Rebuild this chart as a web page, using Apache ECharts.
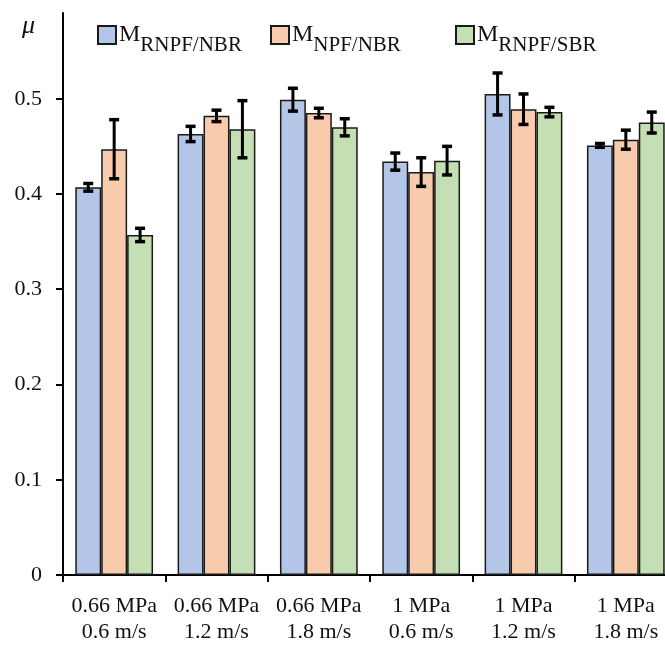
<!DOCTYPE html>
<html>
<head>
<meta charset="utf-8">
<script src="https://cdn.jsdelivr.net/npm/echarts@6/dist/echarts.min.js"></script>
<style>
    html, body { margin: 0; padding: 0; background: #fff; overflow: hidden; }
    #plot { width: 677px; height: 645px; }
</style>
</head>
<body>
<div id="plot"></div>
<script>
    // 类别与数据
    var categories = ['0.66 MPa\n0.6 m/s', '0.66 MPa\n1.2 m/s', '0.66 MPa\n1.8 m/s',
                      '1 MPa\n0.6 m/s', '1 MPa\n1.2 m/s', '1 MPa\n1.8 m/s'];
    var seriesNames = ['RNPF/NBR', 'NPF/NBR', 'RNPF/SBR'];
    var rnpfNbr = [0.407, 0.463, 0.499, 0.434, 0.505, 0.451];
    var npfNbr = [0.447, 0.482, 0.485, 0.423, 0.489, 0.457];
    var rnpfSbr = [0.357, 0.468, 0.470, 0.435, 0.486, 0.475];
    var errRnpfNbr = [0.004, 0.008, 0.012, 0.009, 0.022, 0.002];
    var errNpfNbr = [0.031, 0.006, 0.005, 0.015, 0.016, 0.010];
    var errRnpfSbr = [0.007, 0.030, 0.009, 0.015, 0.005, 0.011];
    var yTicks = [0, 0.1, 0.2, 0.3, 0.4, 0.5];

    var colors = ['#B4C6E7', '#F8CBAD', '#C5DFB4'];
    var values = [rnpfNbr, npfNbr, rnpfSbr];
    var errors = [errRnpfNbr, errNpfNbr, errRnpfSbr];
    var gap = 0.24;
    var font = 'Liberation Serif';

    var chart = echarts.init(document.getElementById('plot'));

    var series = [];
    values.forEach(function (vals, s) {
        series.push({
            name: seriesNames[s],
            type: 'bar',
            data: vals,
            barGap: 0,
            barCategoryGap: (gap * 100) + '%',
            itemStyle: { color: colors[s], borderColor: '#1a1a1a', borderWidth: 1.5 }
        });
    });
    // 误差线
    values.forEach(function (vals, s) {
        series.push({
            type: 'custom',
            silent: true,
            z: 5,
            data: vals.map(function (v, i) { return [i, v, errors[s][i]]; }),
            encode: { x: 0, y: 1 },
            renderItem: function (params, api) {
                var i = api.value(0), v = api.value(1), e = api.value(2);
                var band = api.size([1, 0])[0];
                var bw = band * (1 - gap) / 3;
                var x = api.coord([i, v])[0] + (s - 1) * bw;
                var top = api.coord([i, v + e])[1];
                var bot = api.coord([i, v - e])[1];
                var style = { stroke: '#000', lineWidth: 3.5 };
                var cap = 5;
                return {
                    type: 'group',
                    children: [
                        { type: 'line', shape: { x1: x, y1: top, x2: x, y2: bot }, style: { stroke: '#000', lineWidth: 3 } },
                        { type: 'line', shape: { x1: x - cap, y1: top, x2: x + cap, y2: top }, style: style },
                        { type: 'line', shape: { x1: x - cap, y1: bot, x2: x + cap, y2: bot }, style: style }
                    ]
                };
            }
        });
    });

    var legendRich = {
        m: { fontFamily: font, fontSize: 24, color: '#111' },
        s: { fontFamily: font, fontSize: 21, color: '#111', padding: [20, 0, 0, 0] }
    };
    var legendLeft = [92, 265, 450];
    var legends = seriesNames.map(function (n, s) {
        return {
            data: [n],
            left: legendLeft[s],
            top: 18,
            icon: 'rect',
            itemWidth: 18,
            itemHeight: 18,
            itemGap: 4,
            selectedMode: false,
            formatter: function (name) { return '{m|M}{s|' + name + '}'; },
            textStyle: { rich: legendRich, padding: [0, 0, 0, -2] }
        };
    });

    var option = {
        animation: false,
        title: {
            text: 'μ',
            left: 17,
            top: 8,
            textStyle: { fontFamily: font, fontSize: 26, fontStyle: 'italic', fontWeight: 'normal', color: '#111' }
        },
        legend: legends,
        grid: { left: 63, right: 0, top: 13, bottom: 67 },
        xAxis: {
            type: 'category',
            data: categories,
            axisLine: { lineStyle: { color: '#000', width: 2 } },
            axisTick: { show: true, interval: 0, length: 7, lineStyle: { color: '#000', width: 2 } },
            axisLabel: { interval: 0, fontFamily: font, fontSize: 22, color: '#111', lineHeight: 26, margin: 18 }
        },
        yAxis: {
            type: 'value',
            min: 0,
            max: 0.59,
            splitLine: { show: false },
            axisLine: { show: true, lineStyle: { color: '#000', width: 2 } },
            axisTick: { show: true, length: 7, customValues: yTicks, lineStyle: { color: '#000', width: 2 } },
            axisLabel: { fontFamily: font, fontSize: 22, color: '#111', margin: 21, customValues: yTicks }
        },
        series: series
    };
    chart.setOption(option);
</script>
</body>
</html>
